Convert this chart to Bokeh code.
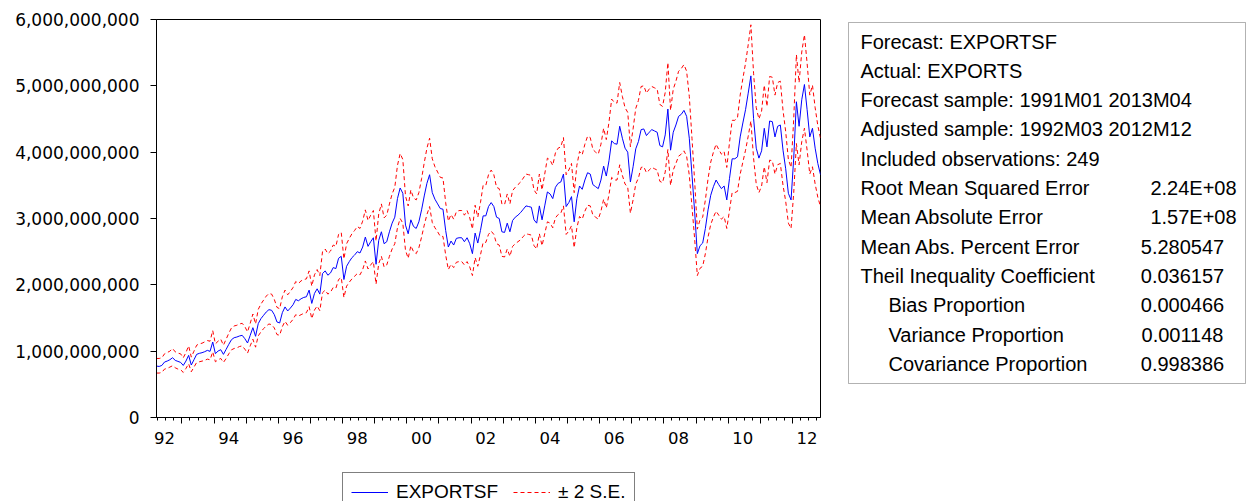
from bokeh.plotting import figure
from bokeh.models import (Range1d, FixedTicker, LinearAxis, NumeralTickFormatter,
                          Legend, LegendItem, ColumnDataSource, BoxAnnotation)
from bokeh.layouts import row, column
from bokeh.core.properties import value
from bokeh.embed import file_html
from bokeh.resources import INLINE

# ---------------- data (billions of units), monthly 1992M03 .. 2012M12 ----------------
first_year, first_month = 1992, 3

forecast_bn = [
    0.775, 0.770, 0.785, 0.836, 0.851, 0.871, 0.901, 0.861, 0.846, 0.831, 0.785, 0.851,
    0.937, 0.791, 0.871, 0.952, 0.967, 0.977, 0.992, 1.012, 0.997, 1.138, 0.962, 1.002,
    1.022, 0.952, 1.027, 1.103, 1.173, 1.203, 1.213, 1.229, 1.239, 1.188, 1.123, 1.239,
    1.354, 1.224, 1.415, 1.490, 1.541, 1.591, 1.626, 1.616, 1.551, 1.440, 1.425, 1.580,
    1.667, 1.606, 1.650, 1.700, 1.780, 1.760, 1.790, 1.810, 1.820, 1.920, 1.720, 1.870,
    1.940, 1.860, 2.170, 2.210, 2.145, 2.180, 2.260, 2.245, 2.400, 2.430, 2.080, 2.280,
    2.350, 2.410, 2.450, 2.500, 2.480, 2.570, 2.720, 2.580, 2.650, 2.710, 2.310, 2.670,
    2.800, 2.620, 2.650, 2.800, 2.930, 3.020, 3.300, 3.460, 3.380, 2.900, 2.770, 2.980,
    2.880, 2.850, 2.950, 3.130, 3.340, 3.530, 3.660, 3.390, 3.290, 3.220, 3.150, 3.140,
    2.820, 2.570, 2.660, 2.600, 2.700, 2.710, 2.710, 2.650, 2.710, 2.620, 2.470, 2.780,
    2.630, 2.820, 3.040, 3.040, 3.180, 3.240, 3.180, 3.020, 3.000, 2.800, 2.790, 2.930,
    2.800, 2.970, 3.020, 3.050, 3.090, 3.140, 3.190, 3.180, 3.170, 2.980, 2.930, 3.190,
    2.980, 3.190, 3.400, 3.370, 3.300, 3.470, 3.530, 3.550, 3.670, 3.180, 3.240, 3.330,
    2.950, 3.300, 3.490, 3.440, 3.580, 3.690, 3.670, 3.510, 3.480, 3.450, 3.580, 3.790,
    3.640, 3.870, 4.170, 4.130, 4.120, 4.390, 4.210, 4.060, 4.000, 3.550, 3.780, 4.050,
    4.160, 4.340, 4.350, 4.250, 4.300, 4.340, 4.320, 4.300, 4.100, 4.080, 4.260, 4.650,
    4.030, 4.300, 4.410, 4.540, 4.570, 4.630, 4.540, 4.210, 3.660, 3.100, 2.470, 2.590,
    2.630, 2.850, 3.130, 3.350, 3.480, 3.580, 3.510, 3.450, 3.490, 3.280, 3.600, 3.900,
    3.900, 3.930, 4.230, 4.440, 4.640, 4.890, 5.150, 4.510, 4.060, 3.910, 4.020, 4.360,
    4.080, 4.470, 4.460, 4.230, 4.390, 4.410, 4.030, 3.750, 3.380, 3.280, 3.910, 4.760,
    4.390, 4.790, 5.020, 4.640, 4.230, 4.360, 4.060, 3.830, 3.660,
]

upper_bn = [
    0.89, 0.89, 0.90, 0.96, 0.98, 1.00, 1.04, 0.99, 0.97, 0.96, 0.90, 0.98,
    1.08, 0.91, 1.00, 1.09, 1.11, 1.12, 1.14, 1.16, 1.15, 1.31, 1.11, 1.15,
    1.18, 1.09, 1.18, 1.27, 1.35, 1.38, 1.39, 1.41, 1.42, 1.37, 1.29, 1.42,
    1.56, 1.41, 1.63, 1.71, 1.77, 1.83, 1.87, 1.86, 1.78, 1.66, 1.64, 1.82,
    1.92, 1.85, 1.90, 1.96, 2.05, 2.02, 2.06, 2.08, 2.09, 2.21, 1.98, 2.15,
    2.23, 2.14, 2.50, 2.54, 2.47, 2.51, 2.60, 2.58, 2.76, 2.79, 2.39, 2.62,
    2.70, 2.77, 2.82, 2.88, 2.85, 2.96, 3.13, 2.97, 3.05, 3.12, 2.66, 3.07,
    3.22, 3.01, 3.05, 3.22, 3.37, 3.47, 3.80, 3.98, 3.89, 3.34, 3.19, 3.43,
    3.31, 3.28, 3.39, 3.60, 3.84, 4.06, 4.21, 3.90, 3.78, 3.70, 3.62, 3.61,
    3.24, 2.96, 3.06, 2.99, 3.10, 3.12, 3.12, 3.05, 3.12, 3.01, 2.84, 3.20,
    3.02, 3.24, 3.50, 3.50, 3.66, 3.73, 3.66, 3.47, 3.45, 3.22, 3.21, 3.37,
    3.22, 3.42, 3.47, 3.51, 3.55, 3.61, 3.67, 3.66, 3.65, 3.43, 3.37, 3.67,
    3.43, 3.67, 3.91, 3.88, 3.80, 3.99, 4.06, 4.08, 4.22, 3.66, 3.73, 3.83,
    3.39, 3.80, 4.01, 3.96, 4.12, 4.24, 4.22, 4.04, 4.00, 3.97, 4.12, 4.36,
    4.19, 4.45, 4.80, 4.75, 4.74, 5.05, 4.84, 4.67, 4.60, 4.08, 4.35, 4.66,
    4.78, 4.99, 5.00, 4.89, 4.95, 4.99, 4.97, 4.95, 4.72, 4.69, 4.90, 5.35,
    4.63, 4.95, 5.07, 5.22, 5.26, 5.32, 5.22, 4.84, 4.21, 3.56, 2.84, 2.98,
    3.02, 3.28, 3.60, 3.85, 4.00, 4.12, 4.04, 3.97, 4.01, 3.77, 4.14, 4.48,
    4.48, 4.52, 4.86, 5.11, 5.34, 5.62, 5.92, 5.19, 4.67, 4.50, 4.62, 5.01,
    4.69, 5.14, 5.13, 4.86, 5.05, 5.07, 4.63, 4.31, 3.89, 3.77, 4.50, 5.47,
    5.05, 5.51, 5.77, 5.34, 4.86, 5.01, 4.67, 4.40, 4.21,
]

lower_bn = [
    0.67, 0.67, 0.68, 0.73, 0.74, 0.76, 0.78, 0.75, 0.73, 0.72, 0.68, 0.74,
    0.81, 0.69, 0.76, 0.83, 0.84, 0.85, 0.86, 0.88, 0.87, 0.99, 0.84, 0.87,
    0.89, 0.83, 0.89, 0.96, 1.02, 1.04, 1.05, 1.07, 1.08, 1.03, 0.97, 1.08,
    1.18, 1.06, 1.23, 1.29, 1.34, 1.38, 1.41, 1.40, 1.35, 1.25, 1.24, 1.37,
    1.45, 1.39, 1.43, 1.48, 1.55, 1.53, 1.55, 1.57, 1.58, 1.67, 1.49, 1.62,
    1.68, 1.61, 1.88, 1.92, 1.86, 1.89, 1.96, 1.95, 2.08, 2.11, 1.81, 1.98,
    2.04, 2.09, 2.13, 2.17, 2.15, 2.23, 2.36, 2.24, 2.30, 2.35, 2.01, 2.32,
    2.43, 2.27, 2.30, 2.43, 2.54, 2.62, 2.86, 3.00, 2.93, 2.52, 2.40, 2.59,
    2.50, 2.47, 2.56, 2.72, 2.90, 3.06, 3.18, 2.94, 2.86, 2.80, 2.73, 2.73,
    2.45, 2.23, 2.31, 2.26, 2.34, 2.35, 2.35, 2.30, 2.35, 2.27, 2.14, 2.41,
    2.28, 2.45, 2.64, 2.64, 2.76, 2.81, 2.76, 2.62, 2.60, 2.43, 2.42, 2.54,
    2.43, 2.58, 2.62, 2.65, 2.68, 2.73, 2.77, 2.76, 2.75, 2.59, 2.54, 2.77,
    2.59, 2.77, 2.95, 2.93, 2.86, 3.01, 3.06, 3.08, 3.19, 2.76, 2.81, 2.89,
    2.56, 2.86, 3.03, 2.99, 3.11, 3.20, 3.19, 3.05, 3.02, 2.99, 3.11, 3.29,
    3.16, 3.36, 3.62, 3.58, 3.58, 3.81, 3.65, 3.52, 3.47, 3.08, 3.28, 3.52,
    3.61, 3.77, 3.78, 3.69, 3.73, 3.77, 3.75, 3.73, 3.56, 3.54, 3.70, 4.04,
    3.50, 3.73, 3.83, 3.94, 3.97, 4.02, 3.94, 3.65, 3.18, 2.69, 2.14, 2.25,
    2.28, 2.47, 2.72, 2.91, 3.02, 3.11, 3.05, 2.99, 3.03, 2.85, 3.12, 3.39,
    3.39, 3.41, 3.67, 3.85, 4.03, 4.24, 4.47, 3.91, 3.52, 3.39, 3.49, 3.78,
    3.54, 3.88, 3.87, 3.67, 3.81, 3.83, 3.50, 3.26, 2.93, 2.85, 3.39, 4.13,
    3.81, 4.16, 4.36, 4.03, 3.67, 3.78, 3.52, 3.32, 3.18,
]

label_years = [1992, 1994, 1996, 1998, 2000, 2002, 2004, 2006, 2008, 2010, 2012]
tick_labels = ["92", "94", "96", "98", "00", "02", "04", "06", "08", "10", "12"]
y_ticks = [0, 1e9, 2e9, 3e9, 4e9, 5e9, 6e9]

stat_names = [
    "Forecast: EXPORTSF",
    "Actual: EXPORTS",
    "Forecast sample: 1991M01 2013M04",
    "Adjusted sample: 1992M03 2012M12",
    "Included observations: 249",
    "Root Mean Squared Error",
    "Mean Absolute Error",
    "Mean Abs. Percent Error",
    "Theil Inequality Coefficient",
    "Bias Proportion",
    "Variance Proportion",
    "Covariance Proportion",
]
stat_values = ["", "", "", "", "", "2.24E+08", "1.57E+08", "5.280547",
               "0.036157", "0.000466", "0.001148", "0.998386"]
stat_indent = [False] * 9 + [True] * 3

# ---------------- helpers ----------------
n = len(forecast_bn)


def month_index(year, month):
    return (year - first_year) * 12 + (month - first_month)


src = ColumnDataSource(dict(
    x=list(range(n)),
    f=[v * 1e9 for v in forecast_bn],
    u=[v * 1e9 for v in upper_bn],
    l=[v * 1e9 for v in lower_bn],
))

AXIS_FONT = "DejaVu Sans"
TEXT_FONT = "Liberation Sans"
P_HEIGHT = 457
BLUE, RED, DASH = "#0000FF", "#FF0000", "4 3"

# ---------------- main chart ----------------
p = figure(width=838, height=P_HEIGHT, output_backend="svg", toolbar_location=None,
           x_range=Range1d(0, n - 1), y_range=Range1d(0, 6e9),
           min_border_left=156, min_border_right=18, min_border_top=19,
           min_border_bottom=P_HEIGHT - 417, background_fill_color="white",
           border_fill_color="white")
p.grid.visible = False
p.outline_line_color = "black"
p.outline_line_width = 1

p.line("x", "u", source=src, line_color=RED, line_width=1, line_dash=DASH)
p.line("x", "l", source=src, line_color=RED, line_width=1, line_dash=DASH)
p.line("x", "f", source=src, line_color=BLUE, line_width=1)

# y axis
ya = p.yaxis[0]
ya.ticker = FixedTicker(ticks=y_ticks)
ya.formatter = NumeralTickFormatter(format="0,0")
ya.major_tick_out = 6
ya.major_tick_in = 0
ya.minor_tick_line_color = None
ya.major_label_standoff = 11
ya.major_label_text_font = AXIS_FONT
ya.major_label_text_font_size = "17px"
ya.major_label_text_color = "black"
ya.axis_line_color = "black"
ya.major_tick_line_color = "black"

# x axis: tick marks (years long, quarters short)
year_bounds = [month_index(y, 1) - 0.5 for y in range(first_year + 1, 2013)]
quarter_bounds = [month_index(y, m) - 0.5 for y in range(first_year, 2013)
                  for m in (1, 4, 7, 10)
                  if 0 <= month_index(y, m) - 0.5 <= n - 1]
xa = p.xaxis[0]
xa.ticker = FixedTicker(ticks=year_bounds, minor_ticks=quarter_bounds)
xa.major_label_overrides = {t: "" for t in year_bounds}
xa.major_label_text_font_size = "1px"
xa.major_label_standoff = 0
xa.major_tick_out = 6
xa.major_tick_in = 0
xa.minor_tick_out = 3
xa.minor_tick_in = 0
xa.axis_line_color = "black"
xa.major_tick_line_color = "black"
xa.minor_tick_line_color = "black"

# x axis: year labels
label_pos = [month_index(y, 6) for y in label_years]
xb = LinearAxis(ticker=FixedTicker(ticks=label_pos, minor_ticks=[]),
                major_label_overrides={pos: lab for pos, lab in zip(label_pos, tick_labels)},
                axis_line_color=None, major_tick_line_color=None,
                minor_tick_line_color=None, major_tick_out=0, major_tick_in=0,
                major_label_standoff=8, major_label_text_font=AXIS_FONT,
                major_label_text_font_size="16.5px", major_label_text_color="black")
p.add_layout(xb, "below")

# ---------------- legend strip under the chart ----------------
lf = figure(width=838, height=501 - P_HEIGHT, output_backend="svg", toolbar_location=None,
            x_axis_type=None, y_axis_type=None,
            min_border_left=156, min_border_right=18, min_border_top=0,
            min_border_bottom=0, background_fill_color="white",
            border_fill_color="white")
lf.grid.visible = False
lf.outline_line_color = None
key_src = ColumnDataSource(dict(x=[0], y=[forecast_bn[0]]))
lb = lf.line("x", "y", source=key_src, line_color=BLUE, line_width=1)
lr = lf.line("x", "y", source=key_src, line_color=RED, line_width=1, line_dash=DASH)
legend = Legend(items=[LegendItem(label="EXPORTSF", renderers=[lb]),
                       LegendItem(label="\u00b1 2 S.E.", renderers=[lr])],
                location=(186, -11), orientation="horizontal",
                border_line_color="black", border_line_width=1,
                background_fill_color="white", background_fill_alpha=1,
                padding=8, spacing=15, margin=0, glyph_width=37, glyph_height=18,
                label_standoff=8, label_height=18,
                label_text_font=TEXT_FONT, label_text_font_size="19px",
                label_text_color="black")
lf.add_layout(legend, "center")

# ---------------- statistics box (page-pixel coordinates) ----------------
q = figure(width=419, height=501, output_backend="svg", toolbar_location=None,
           x_range=Range1d(838, 1257), y_range=Range1d(501, 0),
           x_axis_type=None, y_axis_type=None,
           min_border_left=0, min_border_right=0, min_border_top=0,
           min_border_bottom=0, background_fill_color="white",
           border_fill_color="white")
q.grid.visible = False
q.outline_line_color = None
q.add_layout(BoxAnnotation(left=848, right=1245, top=22, bottom=383,
                           fill_alpha=0, line_color="black", line_width=1))

line_gap = 29.33
base_y = [41 + k * line_gap for k in range(len(stat_names))]
q.text(x=[888 if ind else 860 for ind in stat_indent], y=base_y, text=stat_names,
       text_font=value(TEXT_FONT), text_font_size="20px", text_color="black",
       text_align="left", text_baseline="alphabetic")

val_rows = [k for k, v in enumerate(stat_values) if v]
val_x = [1193 if "E" in stat_values[k] else 1182 for k in val_rows]
q.text(x=val_x, y=[base_y[k] for k in val_rows], text=[stat_values[k] for k in val_rows],
       text_font=value(TEXT_FONT), text_font_size="20px", text_color="black",
       text_align="center", text_baseline="alphabetic")

layout = row(column(p, lf, spacing=0), q, spacing=0)
open("out.html", "w").write(file_html(layout, INLINE))
